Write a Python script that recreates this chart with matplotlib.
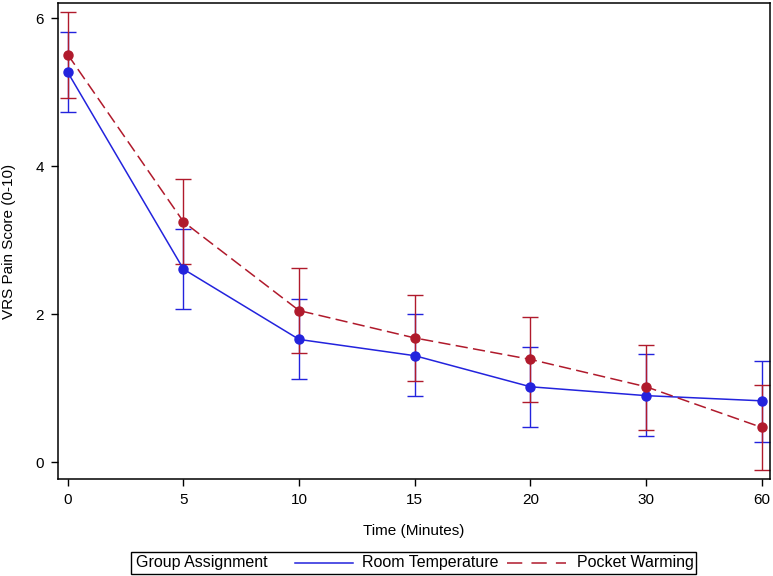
import matplotlib
matplotlib.use("Agg")
import matplotlib.pyplot as plt
from matplotlib.lines import Line2D
from matplotlib.patches import Rectangle

time_labels = ["0", "5", "10", "15", "20", "30", "60"]

room_mean = [5.27, 2.61, 1.66, 1.44, 1.02, 0.90, 0.83]
room_upper = [5.81, 3.15, 2.20, 2.00, 1.56, 1.46, 1.37]
room_lower = [4.73, 2.07, 1.12, 0.90, 0.48, 0.36, 0.27]

pocket_mean = [5.51, 3.25, 2.05, 1.68, 1.39, 1.02, 0.47]
pocket_upper = [6.09, 3.83, 2.63, 2.26, 1.97, 1.59, 1.05]
pocket_lower = [4.93, 2.68, 1.47, 1.10, 0.81, 0.44, -0.10]

legend_title = "Group Assignment"
series_names = ["Room Temperature", "Pocket Warming"]

blue = "#2323dd"
red = "#b01a2c"
DASH = (8, 3.5)

plt.rcParams['font.family'] = ['Liberation Sans', 'DejaVu Sans']

W, H = 773, 576
fig = plt.figure(figsize=(W / 100, H / 100), dpi=100)
ax = fig.add_axes([0.075, 0.168, 0.921, 0.827])

x = list(range(len(time_labels)))

def draw(mean, lo, hi, color, ls):
    yerr = [[m - l for m, l in zip(mean, lo)], [h - m for m, h in zip(mean, hi)]]
    ax.errorbar(x, mean, yerr=yerr, fmt='none', ecolor=color, elinewidth=1.0,
                capsize=6, capthick=1.0, zorder=2)
    if ls == '--':
        ax.plot(x, mean, color=color, linestyle='--', dashes=DASH, linewidth=1.1, zorder=3)
    else:
        ax.plot(x, mean, color=color, linestyle='-', linewidth=1.1, zorder=3)
    ax.plot(x, mean, 'o', color=color, markersize=6.5, zorder=4)

draw(room_mean, room_lower, room_upper, blue, '-')
draw(pocket_mean, pocket_lower, pocket_upper, red, '--')

ax.set_xlim(-0.085, 6.07)
ax.set_ylim(-0.23, 6.21)
ax.set_xticks(x)
ax.set_xticklabels(time_labels)
ax.set_yticks([0, 2, 4, 6])
ax.tick_params(labelsize=11, length=5, width=1, colors='black', pad=5)
for s in ax.spines.values():
    s.set_linewidth(1.1)
ax.set_xlabel("Time (Minutes)", fontsize=11, labelpad=12)
ax.set_ylabel("VRS Pain Score (0-10)", fontsize=11, labelpad=14)

# legend box (manual, SAS-style horizontal legend)
def fx(px):
    return px / W

def fy(py):
    return 1 - py / H

fig.patches.append(Rectangle((fx(131), fy(574)), fx(696) - fx(131), fy(552) - fy(574),
                             transform=fig.transFigure, fill=False, edgecolor='black',
                             linewidth=1.0))
ymid = fy(563)
fig.text(fx(136), ymid, legend_title, fontsize=11.5, va='center', ha='left')
fig.add_artist(Line2D([fx(295), fx(353)], [ymid, ymid], color=blue, linewidth=1.1,
                      transform=fig.transFigure))
fig.text(fx(362), ymid, series_names[0], fontsize=11.5, va='center', ha='left')
fig.add_artist(Line2D([fx(507), fx(566)], [ymid, ymid], color=red, linewidth=1.1,
                      linestyle='--', dashes=(10, 6), transform=fig.transFigure))
fig.text(fx(577), ymid, series_names[1], fontsize=11.5, va='center', ha='left')

fig.savefig("out.png", dpi=100)
